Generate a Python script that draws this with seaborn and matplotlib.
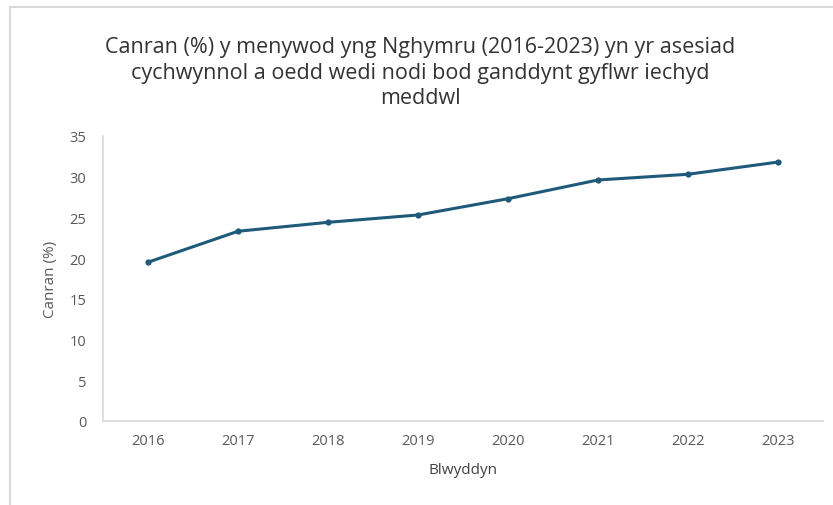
import matplotlib
matplotlib.use("Agg")
import matplotlib.pyplot as plt
from matplotlib.lines import Line2D
import seaborn as sns
import pandas as pd

years = ["2016", "2017", "2018", "2019", "2020", "2021", "2022", "2023"]
percent = [19.5, 23.3, 24.4, 25.3, 27.3, 29.6, 30.3, 31.8]

title = ("Canran (%) y menywod yng Nghymru (2016-2023) yn yr asesiad\n"
         "cychwynnol a oedd wedi nodi bod ganddynt gyflwr iechyd\n"
         "meddwl")
x_label = "Blwyddyn"
y_label = "Canran (%)"

df = pd.DataFrame({"Blwyddyn": years, "Canran": percent})

sns.set_theme(style="white")
plt.rcParams["font.family"] = ["Open Sans", "DejaVu Sans"]

W, H = 833, 506
fig = plt.figure(figsize=(W / 100, H / 100), dpi=100)
fig.patch.set_facecolor("white")

# chart frame lines (top and left edges)
fig.add_artist(Line2D([10 / W, 1.0], [1 - 8 / H, 1 - 8 / H], color="#d9d9d9", lw=1.5,
                      transform=fig.transFigure))
fig.add_artist(Line2D([10 / W, 10 / W], [0, 1 - 8 / H], color="#d9d9d9", lw=1.5,
                      transform=fig.transFigure))

ax = fig.add_axes([103 / W, (H - 422) / H, 720 / W, 285 / H])
sns.lineplot(data=df, x="Blwyddyn", y="Canran", ax=ax, color="#1f5a7a",
             linewidth=2.2, marker="o", markersize=4.5, markeredgewidth=0,
             sort=False)

ax.set_xlim(-0.5, len(years) - 0.5)
ax.set_ylim(0, 35)
ax.set_yticks(range(0, 36, 5))

for side in ["top", "right"]:
    ax.spines[side].set_visible(False)
for side in ["left", "bottom"]:
    ax.spines[side].set_color("#d9d9d9")
    ax.spines[side].set_linewidth(1.2)

ax.tick_params(axis="both", length=0, labelsize=10.5, labelcolor="#595959")
ax.tick_params(axis="y", pad=12)
ax.tick_params(axis="x", pad=9)

ax.set_xlabel(x_label, fontsize=11, color="#404040", labelpad=10)
ax.set_ylabel(y_label, fontsize=11, color="#595959", labelpad=8)

fig.text(420 / W, 1 - 73 / H, title, ha="center", va="center", fontsize=15.5,
         color="#333333", linespacing=1.3)

fig.savefig("out.png", dpi=100, facecolor="white")
